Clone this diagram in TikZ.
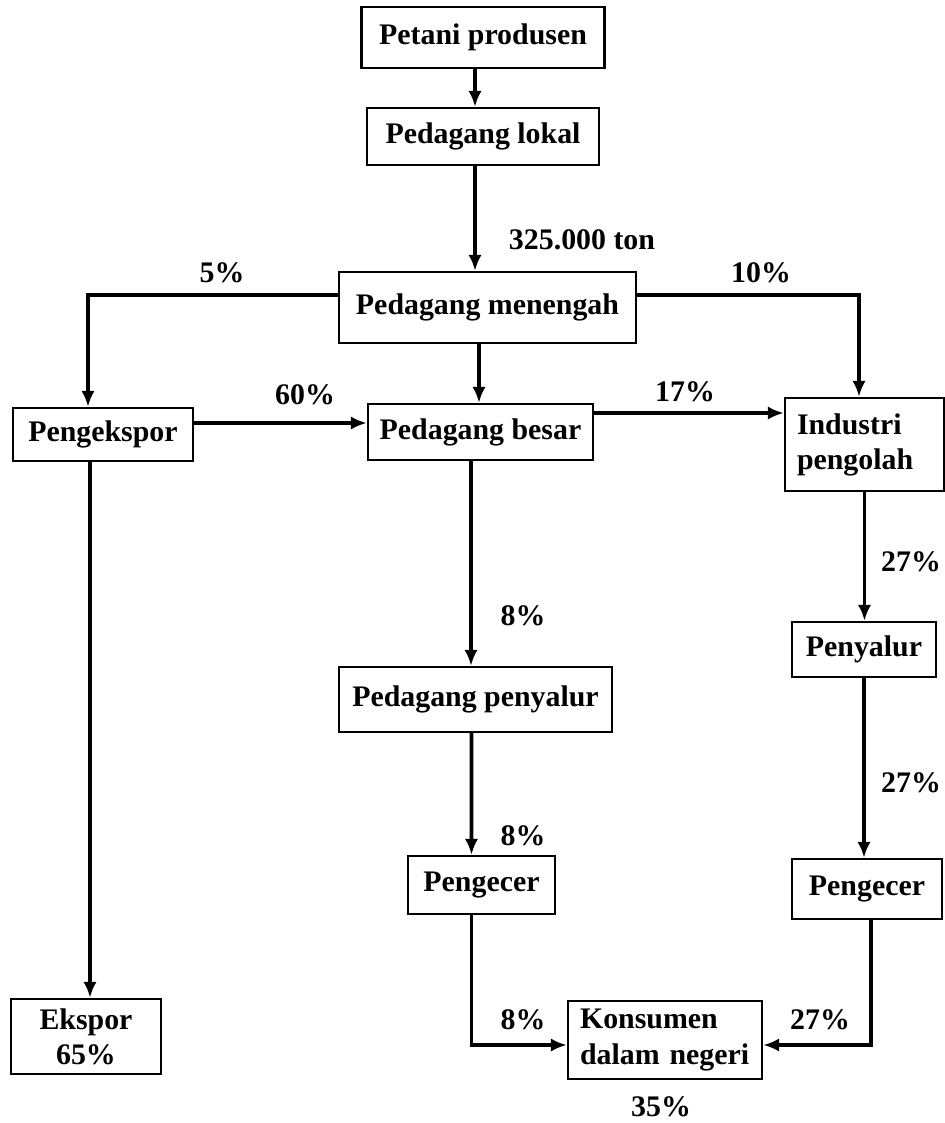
\documentclass[tikz,border=0pt]{standalone}
\usepackage{fontspec}
\setmainfont{Liberation Serif}
\usetikzlibrary{arrows.meta,positioning,calc}

\begin{document}
\begin{tikzpicture}[x=0.02cm, y=-0.02cm,
    font=\fontsize{17}{20}\selectfont\bfseries,
    box/.style={draw, line width=1.4pt, inner sep=2pt},
    lbl/.style={inner sep=0pt},
    arr/.style={line width=2.2pt, -{Latex[length=9pt,width=7.5pt]}}]
  \useasboundingbox (0,0) rectangle (945,1123);
  % boxes
  \node [box, minimum width=4.86cm, minimum height=1.22cm] (petani) at (483,37.5) {Petani produsen};
  \node [box, minimum width=4.64cm, minimum height=1.14cm] (lokal) at (483,136.5) {Pedagang lokal};
  \node [box, minimum width=5.94cm, minimum height=1.42cm] (menengah) at (487.5,307.5) {Pedagang menengah};
  \node [box, minimum width=3.6cm, minimum height=1.06cm] (pengekspor) at (103,434.5) {Pengekspor};
  \node [box, minimum width=4.5cm, minimum height=1.12cm] (besar) at (480.5,432) {Pedagang besar};
  \node [box, minimum width=3.18cm, minimum height=1.86cm, align=left, text width=2.7cm] (industri) at (864.5,444.5) {Industri\\pengolah};
  \node [box, minimum width=2.88cm, minimum height=1.1cm] (penyalur) at (864,649.5) {Penyalur};
  \node [box, minimum width=5.46cm, minimum height=1.3cm] (pedpenyalur) at (475.5,699.5) {Pedagang penyalur};
  \node [box, minimum width=2.94cm, minimum height=1.16cm] (pengecer1) at (481.5,885) {Pengecer};
  \node [box, minimum width=3.0cm, minimum height=1.2cm] (pengecer2) at (867,889) {Pengecer};
  \node [box, minimum width=3.88cm, minimum height=1.56cm, align=left, text width=3.4cm] (konsumen) at (665,1040) {Konsumen\\dalam negeri};
  \node [box, minimum width=3.0cm, minimum height=1.5cm, align=center] (ekspor) at (86,1036.5) {Ekspor\\65\%};
  % flows
  \draw [arr] ([xshift=-0.16cm]petani.south) -- ([xshift=-0.16cm]lokal.north);
  \draw [arr] ([xshift=-0.16cm]lokal.south) -- ([xshift=-0.25cm]menengah.north);
  \draw [arr] ([xshift=-0.17cm]menengah.south) -- ([xshift=-0.03cm]besar.north);
  \draw [arr] ([yshift=0.25cm]menengah.west) -| ([xshift=-0.3cm]pengekspor.north);
  \draw [arr] ([yshift=0.25cm]menengah.east) -| ([xshift=-0.11cm]industri.north);
  \draw [arr] ([yshift=0.23cm]pengekspor.east) -- ([yshift=0.18cm]besar.west);
  \draw [arr] ([yshift=0.38cm]besar.east) -- ([yshift=0.63cm]industri.west);
  \draw [arr] (industri.south) -- (industri.south |- penyalur.north);
  \draw [arr] (penyalur.south) -- (penyalur.south |- pengecer2.north);
  \draw [arr] ([xshift=-0.19cm]besar.south) -- ([xshift=-0.09cm]pedpenyalur.north);
  \draw [arr] ([xshift=-0.08cm]pedpenyalur.south) -- ([xshift=-0.2cm]pengecer1.north);
  \draw [arr] ([xshift=-0.2cm]pengecer1.south) |- ([yshift=-0.1cm]konsumen.west);
  \draw [arr] ([xshift=0.08cm]pengecer2.south) |- ([yshift=-0.1cm]konsumen.east);
  \draw [arr] ([xshift=-0.26cm]pengekspor.south) -- ([xshift=0.08cm]ekspor.north);
  % percentages
  \node [lbl] (t325) at (582,240) {325.000 ton};
  \node [lbl] (p5) at (222,273) {5\%};
  \node [lbl] (p10) at (761,273) {10\%};
  \node [lbl] (p60) at (305,395) {60\%};
  \node [lbl] (p17) at (685,392) {17\%};
  \node [lbl] (p27a) at (911,562) {27\%};
  \node [lbl] (p8a) at (523,616) {8\%};
  \node [lbl] (p27b) at (911,783) {27\%};
  \node [lbl] (p8b) at (523,836) {8\%};
  \node [lbl] (p8c) at (523,1020) {8\%};
  \node [lbl] (p27c) at (820,1020) {27\%};
  \node [lbl] (p35) at (661,1107) {35\%};
\end{tikzpicture}
\end{document}
